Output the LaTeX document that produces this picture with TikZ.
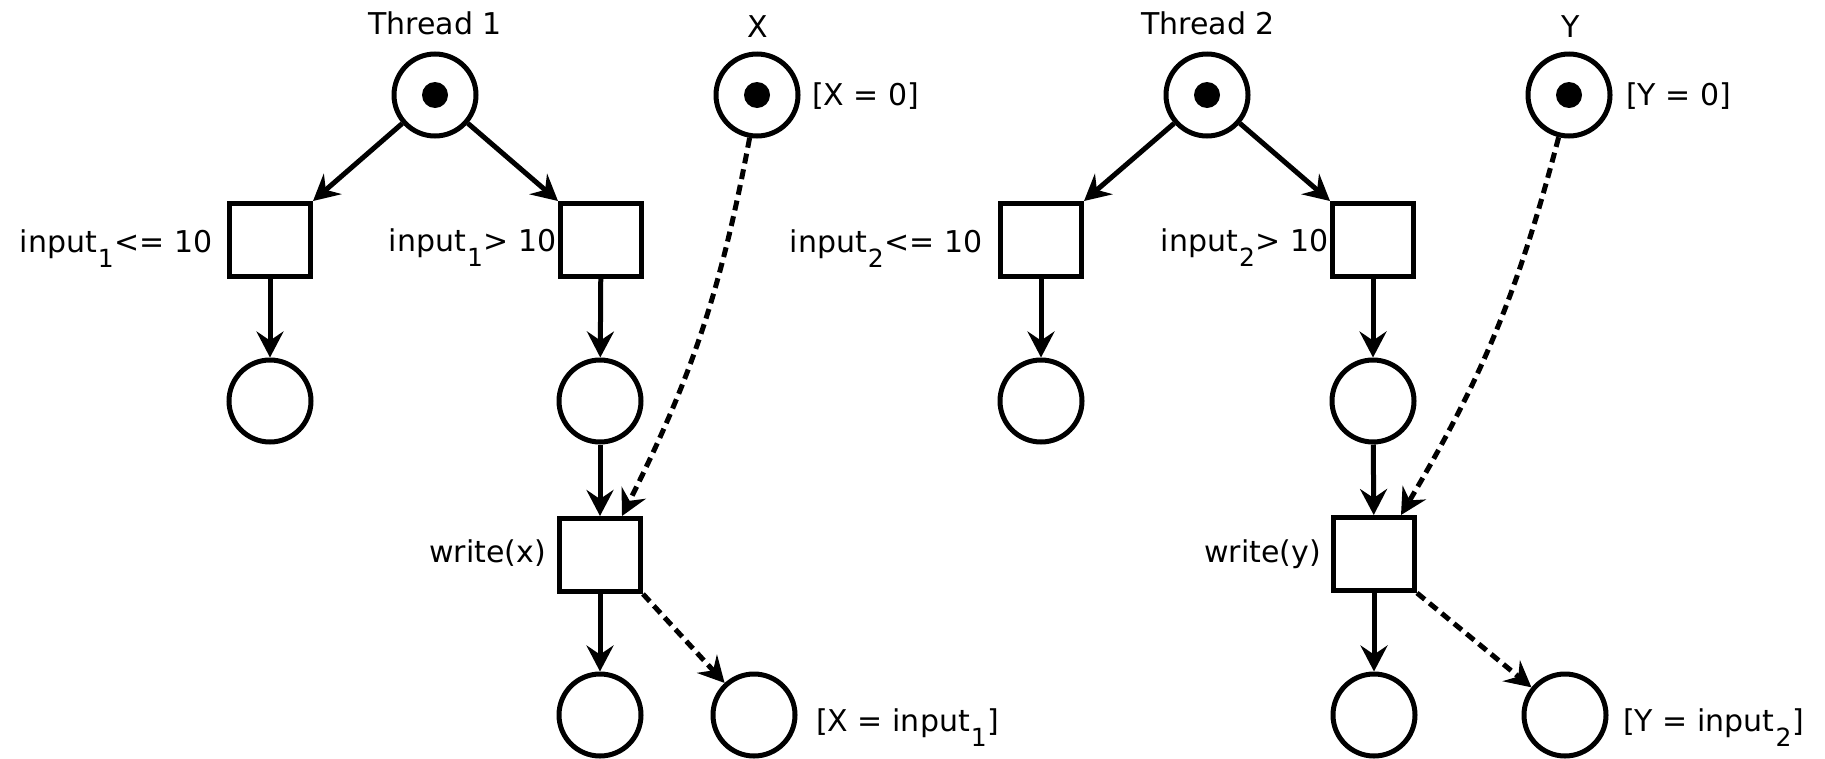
\documentclass[tikz,border=0pt]{standalone}
\usepackage{fontspec}
\setmainfont{DejaVu Sans}
\usetikzlibrary{arrows.meta}
% lowered index digit used in the guard and assignment labels
\newcommand\lowsub[1]{\kern1pt\raisebox{-15pt}{\fontsize{25}{25}\selectfont #1}\kern1pt}
\begin{document}
\begin{tikzpicture}[x=1pt,y=-1pt,
  place/.style={circle, draw, line width=5pt, minimum size=82pt, inner sep=0pt},
  marked/.style={place, path picture={\fill (path picture bounding box.center) circle (13pt);}},
  trans/.style={rectangle, draw, line width=5pt, minimum width=81pt, minimum height=73pt, inner sep=0pt},
  arc/.style={line width=5pt, -{Stealth[length=26pt,width=27pt,inset=9pt]}},
  readarc/.style={arc, dash pattern=on 10pt off 6pt},
  lbl/.style={inner sep=0pt, font=\fontsize{30}{36}\selectfont}]
\useasboundingbox (0,0) rectangle (1825,758);

% ---------- Thread 1 ----------
\node[marked] (p1) at (435,95) {};
\node[lbl, anchor=base] (p1l) at (435,34) {Thread 1};
\node[trans] (t1a) at (270,240) {};
\node[trans] (t1b) at (601,240) {};
\node[lbl, anchor=base east] (t1al) at (213,252) {input\lowsub{1}<= 10};
\node[lbl, anchor=base east] (t1bl) at (557,251) {input\lowsub{1}> 10};
\node[place] (p2) at (270,401) {};
\node[place] (p3) at (600,401) {};
\node[trans] (wx) at (600,555) {};
\node[lbl, anchor=base east] (wxl) at (546,562) {write(x)};
\node[place] (p4) at (600,715) {};
\node[place] (px2) at (754,715) {};
\node[lbl, anchor=base west] (px2l) at (816,731) {[X = input\lowsub{1}]};

% shared variable X
\node[marked] (x) at (757,95) {};
\node[lbl, anchor=base] (xl) at (758,37) {X};
\node[lbl, anchor=base west] (xv) at (812,105) {[X = 0]};
\coordinate (wxin) at ([xshift=22pt]wx.north);

\draw[arc] (p1) -- (t1a.north east);
\draw[arc] (p1) -- (t1b.north west);
\draw[arc] (t1a) -- (p2);
\draw[arc] (t1b) -- (p3);
\draw[arc] (p3) -- (wx);
\draw[arc] (wx) -- (p4);
\draw[readarc] (x) to[bend left=8] (wxin);
\draw[readarc] (wx.south east) -- (px2);

% ---------- Thread 2 ----------
\node[marked] (p5) at (1207,95) {};
\node[lbl, anchor=base] (p5l) at (1208,34) {Thread 2};
\node[trans] (t2a) at (1041,240) {};
\node[trans] (t2b) at (1373,240) {};
\node[lbl, anchor=base east] (t2al) at (983,252) {input\lowsub{2}<= 10};
\node[lbl, anchor=base east] (t2bl) at (1329,251) {input\lowsub{2}> 10};
\node[place] (p6) at (1041,401) {};
\node[place] (p7) at (1373,401) {};
\node[trans] (wy) at (1374,554) {};
\node[lbl, anchor=base east] (wyl) at (1321,562) {write(y)};
\node[place] (p8) at (1374,715) {};
\node[place] (py2) at (1565,715) {};
\node[lbl, anchor=base west] (py2l) at (1623,731) {[Y = input\lowsub{2}]};

% shared variable Y
\node[marked] (y) at (1569,95) {};
\node[lbl, anchor=base] (yl) at (1571,37) {Y};
\node[lbl, anchor=base west] (yv) at (1626,105) {[Y = 0]};
\coordinate (wyin) at ([xshift=27pt]wy.north);

\draw[arc] (p5) -- (t2a.north east);
\draw[arc] (p5) -- (t2b.north west);
\draw[arc] (t2a) -- (p6);
\draw[arc] (t2b) -- (p7);
\draw[arc] (p7) -- (wy);
\draw[arc] (wy) -- (p8);
\draw[readarc] (y) to[bend left=8] (wyin);
\draw[readarc] (wy.south east) -- (py2);
\end{tikzpicture}
\end{document}
